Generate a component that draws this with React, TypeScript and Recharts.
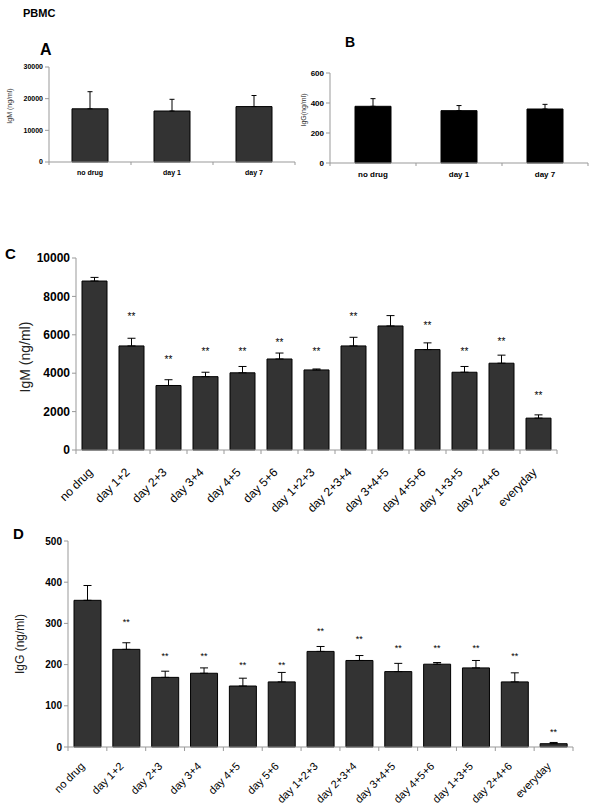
import React from "react"
import { ComposedChart, Bar, ErrorBar, Line, XAxis, YAxis } from "recharts"

const AXIS = "#999"
const FONT = 'Arial, "Liberation Sans", sans-serif'

// panels A / B
const smallCats = ["no drug", "day 1", "day 7"]
const igmSmall = [16800, 16100, 17500]
const igmSmallSd = [5400, 3700, 3500]
const iggSmall = [378, 349, 360]
const iggSmallSd = [51, 34, 31]

// panels C / D
const comboCats = [
  "no drug", "day 1+2", "day 2+3", "day 3+4", "day 4+5", "day 5+6",
  "day 1+2+3", "day 2+3+4", "day 3+4+5", "day 4+5+6", "day 1+3+5", "day 2+4+6", "everyday",
]
const igmCombo = [8800, 5420, 3360, 3820, 4020, 4740, 4170, 5420, 6460, 5230, 4050, 4520, 1660]
const igmComboSd = [190, 400, 300, 230, 330, 310, 50, 450, 540, 350, 300, 420, 170]
const igmStars = [null, 7080, 4810, 5250, 5260, 5710, 5250, 7080, null, 6600, 5250, 5770, 2960]
const iggCombo = [356, 237, 169, 179, 148, 158, 232, 210, 183, 201, 192, 158, 8]
const iggComboSd = [36, 16, 15, 13, 19, 23, 12, 12, 20, 4, 18, 22, 3]
const iggStars = [null, 308, 225, 225, 204, 204, 286, 266, 245, 245, 245, 225, 40]

const igmSmallTicks = [0, 10000, 20000, 30000]
const iggSmallTicks = [0, 200, 400, 600]
const igmComboTicks = [0, 2000, 4000, 6000, 8000, 10000]
const iggComboTicks = [0, 100, 200, 300, 400, 500]

// ticks between categories like the excel original
const flatTick = (band: number, n: number, fs: number, dy: number) => (p: any) => (
  <g>
    <line x1={p.x - band / 2} y1={p.y} x2={p.x - band / 2} y2={p.y + 3} stroke={AXIS} />
    {p.index === n - 1 && <line x1={p.x + band / 2} y1={p.y} x2={p.x + band / 2} y2={p.y + 3} stroke={AXIS} />}
    <text x={p.x} y={p.y + dy} textAnchor="middle" fontSize={fs} fontWeight="bold" fontFamily={FONT} fill="#000" stroke="none">
      {p.payload.value}
    </text>
  </g>
)

const slantTick = (band: number, n: number, fs: number, dx: number, dy: number) => (p: any) => (
  <g>
    <line x1={p.x - band / 2} y1={p.y} x2={p.x - band / 2} y2={p.y + 4} stroke={AXIS} />
    {p.index === n - 1 && <line x1={p.x + band / 2} y1={p.y} x2={p.x + band / 2} y2={p.y + 4} stroke={AXIS} />}
    <text
      transform={`translate(${p.x + dx},${p.y + dy}) rotate(-45)`}
      textAnchor="end"
      fontSize={fs}
      fontFamily={FONT}
      fill="#000"
      stroke="none"
    >
      {p.payload.value}
    </text>
  </g>
)

const starDot = (fs: number) => (p: any) => {
  if (p.value == null || p.cy == null || isNaN(p.cy)) return <g key={`s${p.index}`} />
  return (
    <text key={`s${p.index}`} x={p.cx} y={p.cy + fs * 0.55} textAnchor="middle" fontSize={fs} fontFamily={FONT} fill="#000" stroke="none">
      **
    </text>
  )
}

interface PanelProps {
  left: number
  top: number
  w: number
  h: number
  margin: { top: number; right: number; left: number; bottom: number }
  yWidth: number
  xHeight: number
  cats: string[]
  values: number[]
  sds: number[]
  stars?: (number | null)[]
  yTicks: number[]
  barSize: number
  fill: string
  cap: number
  yFont: number
  starFont?: number
  makeTick: (band: number, n: number) => (p: any) => React.ReactElement
}

function Panel(props: PanelProps) {
  const { cats, values, sds, stars } = props
  const data = cats.map((c, i) => ({ cat: c, v: values[i], err: [0, sds[i]], star: stars ? stars[i] : null }))
  const plotW = props.w - props.margin.left - props.margin.right - props.yWidth
  const band = plotW / cats.length
  return (
    <div style={{ position: "absolute", left: props.left, top: props.top }}>
      <ComposedChart width={props.w} height={props.h} data={data} margin={props.margin}>
        <XAxis
          dataKey="cat"
          stroke={AXIS}
          height={props.xHeight}
          tickLine={false}
          tickSize={0}
          tickMargin={0}
          interval={0}
          tick={props.makeTick(band, cats.length)}
        />
        <YAxis
          domain={[0, props.yTicks[props.yTicks.length - 1]]}
          ticks={props.yTicks}
          interval={0}
          width={props.yWidth}
          stroke={AXIS}
          tickSize={4}
          tickMargin={2}
          tick={{ fill: "#000", stroke: "none", fontSize: props.yFont, fontWeight: "bold", fontFamily: FONT }}
        />
        <Bar dataKey="v" fill={props.fill} stroke="#000" strokeWidth={1} barSize={props.barSize} isAnimationActive={false}>
          <ErrorBar dataKey="err" width={props.cap} stroke="#000" strokeWidth={1} direction="y" />
        </Bar>
        {stars && (
          <Line dataKey="star" stroke="none" dot={starDot(props.starFont || 9)} activeDot={false} isAnimationActive={false} />
        )}
      </ComposedChart>
    </div>
  )
}

export default function App() {
  return (
    <div style={{ position: "absolute", left: 0, top: 0, width: 600, height: 806, background: "#fff", fontFamily: FONT }}>
      <Panel
        left={0} top={50} w={300} h={140}
        margin={{ top: 17, right: 5, left: 0, bottom: 0 }}
        yWidth={49} xHeight={28}
        cats={smallCats} values={igmSmall} sds={igmSmallSd}
        yTicks={igmSmallTicks} barSize={36} fill="#333" cap={2.5} yFont={7}
        makeTick={(b, n) => flatTick(b, n, 7, 13)}
      />
      <Panel
        left={300} top={55} w={300} h={135}
        margin={{ top: 18, right: 12, left: 0, bottom: 0 }}
        yWidth={30} xHeight={27}
        cats={smallCats} values={iggSmall} sds={iggSmallSd}
        yTicks={iggSmallTicks} barSize={36} fill="#000" cap={2.5} yFont={8}
        makeTick={(b, n) => flatTick(b, n, 8, 14)}
      />
      <Panel
        left={0} top={240} w={600} h={285}
        margin={{ top: 18, right: 43, left: 0, bottom: 0 }}
        yWidth={76} xHeight={75}
        cats={comboCats} values={igmCombo} sds={igmComboSd} stars={igmStars}
        yTicks={igmComboTicks} barSize={25} fill="#333" cap={4} yFont={12} starFont={10}
        makeTick={(b, n) => slantTick(b, n, 12, -1, 23)}
      />
      <Panel
        left={0} top={525} w={600} h={281}
        margin={{ top: 16, right: 27, left: 0, bottom: 0 }}
        yWidth={68} xHeight={59}
        cats={comboCats} values={iggCombo} sds={iggComboSd} stars={iggStars}
        yTicks={iggComboTicks} barSize={27} fill="#333" cap={4} yFont={10} starFont={9}
        makeTick={(b, n) => slantTick(b, n, 11, -2, 20)}
      />
      <svg width={600} height={806} style={{ position: "absolute", left: 0, top: 0, pointerEvents: "none" }}>
        <text x={23} y={17} fontSize={11} fontWeight="bold" fontFamily={FONT}>PBMC</text>
        <text x={40} y={55} fontSize={16} fontWeight="bold" fontFamily={FONT}>A</text>
        <text x={345} y={47} fontSize={14} fontWeight="bold" fontFamily={FONT}>B</text>
        <text x={5} y={259} fontSize={15} fontWeight="bold" fontFamily={FONT}>C</text>
        <text x={13} y={539} fontSize={15} fontWeight="bold" fontFamily={FONT}>D</text>
        <text transform="translate(12,106) rotate(-90)" textAnchor="middle" fontSize={7} fill="#333" fontFamily={FONT}>IgM (ng/ml)</text>
        <text transform="translate(306,110) rotate(-90)" textAnchor="middle" fontSize={7} fill="#333" fontFamily={FONT}>IgG(ng/ml)</text>
        <text transform="translate(30,357) rotate(-90)" textAnchor="middle" fontSize={14} fill="#222" fontFamily={FONT}>IgM (ng/ml)</text>
        <text transform="translate(24,644) rotate(-90)" textAnchor="middle" fontSize={12} fill="#222" fontFamily={FONT}>IgG (ng/ml)</text>
      </svg>
    </div>
  )
}
